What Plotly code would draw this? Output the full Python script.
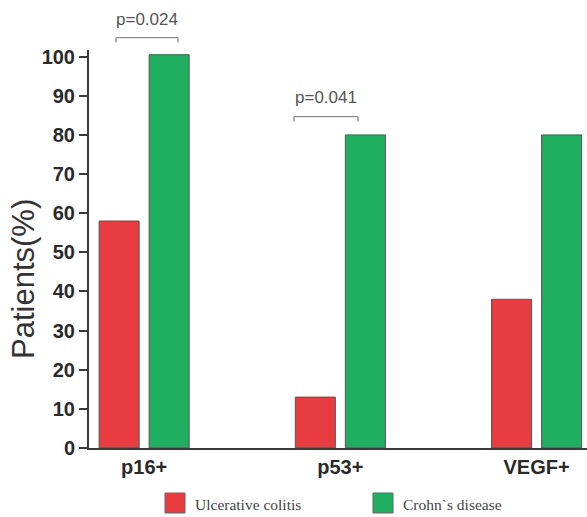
import plotly.graph_objects as go

categories = ["p16+", "p53+", "VEGF+"]
uc_values = [58, 13, 38]
cd_values = [100.5, 80, 80]
series_names = ["Ulcerative colitis", "Crohn`s disease"]
y_ticks = [0, 10, 20, 30, 40, 50, 60, 70, 80, 90, 100]
p_labels = ["p=0.024", "p=0.041"]
y_title = "Patients(%)"

RED = "#E83C41"
GREEN = "#20AE61"

fig = go.Figure()
fig.add_trace(go.Bar(x=categories, y=uc_values, name=series_names[0],
                     marker=dict(color=RED, line=dict(color="#555555", width=1))))
fig.add_trace(go.Bar(x=categories, y=cd_values, name=series_names[1],
                     marker=dict(color=GREEN, line=dict(color="#555555", width=1))))

W, H = 587, 517
L, T, B = 89, 50, 69
ph = H - T - B

def py(px):
    return (H - B - px) / ph

def pxx(px):
    return (px - L) / (W - L)

shapes = []
annotations = []
# significance brackets (pixel positions -> paper)
brackets = [
    (116, 178, 37.7, 42.5, 19, p_labels[0]),
    (294, 358, 116.7, 121.5, 98, p_labels[1]),
]
for x0, x1, yb, yt, ytxt, lab in brackets:
    for (a, b, c, d) in [(x0, yb, x1, yb), (x0, yb, x0, yt), (x1, yb, x1, yt)]:
        shapes.append(dict(type="line", xref="paper", yref="paper",
                           x0=pxx(a), y0=py(b), x1=pxx(c), y1=py(d),
                           line=dict(color="#8a8a8a", width=1.3)))
    annotations.append(dict(text=lab, xref="paper", yref="paper",
                            x=pxx((x0 + x1) / 2), y=py(ytxt), showarrow=False,
                            xanchor="center", yanchor="middle",
                            font=dict(family="Liberation Sans, Arial", size=17, color="#555555")))

# y axis title
annotations.append(dict(text=y_title, xref="paper", yref="paper",
                        x=pxx(23), y=py(279), showarrow=False, textangle=-90,
                        xanchor="center", yanchor="middle",
                        font=dict(family="Liberation Sans, Arial", size=31, color="#333333")))

# manual legend
legend_items = [(165, RED, series_names[0]), (373, GREEN, series_names[1])]
for x0, col, name in legend_items:
    shapes.append(dict(type="rect", xref="paper", yref="paper",
                       x0=pxx(x0), x1=pxx(x0 + 20), y0=py(493), y1=py(513),
                       fillcolor=col, line=dict(color="#666666", width=1)))
    annotations.append(dict(text=name, xref="paper", yref="paper",
                            x=pxx(x0 + 28), y=py(504), showarrow=False,
                            xanchor="left", yanchor="middle",
                            font=dict(family="Liberation Serif, Times New Roman", size=15.5, color="#444444")))

fig.update_layout(
    width=W, height=H,
    margin=dict(l=L, r=0, t=T, b=B),
    plot_bgcolor="white", paper_bgcolor="white",
    barmode="group", bargap=0.49, bargroupgap=0.2,
    showlegend=False,
    shapes=shapes, annotations=annotations,
    xaxis=dict(range=[-0.281, 2.257], showline=True, linecolor="#3a3a3a", linewidth=2,
               ticks="", showgrid=False, zeroline=False,
               tickfont=dict(family="Liberation Sans, Arial", size=20, color="#2a2a2a", weight="bold")),
    yaxis=dict(range=[0, 101.7], tickvals=y_ticks, showline=True, linecolor="#3a3a3a",
               linewidth=2, ticks="outside", ticklen=8, tickwidth=2, tickcolor="#3a3a3a",
               showgrid=False, zeroline=False,
               tickfont=dict(family="Liberation Sans, Arial", size=20, color="#2a2a2a", weight="bold")),
)

fig.write_html("out.html", config={"displayModeBar": False},
               post_script="document.body.style.margin='0';")
